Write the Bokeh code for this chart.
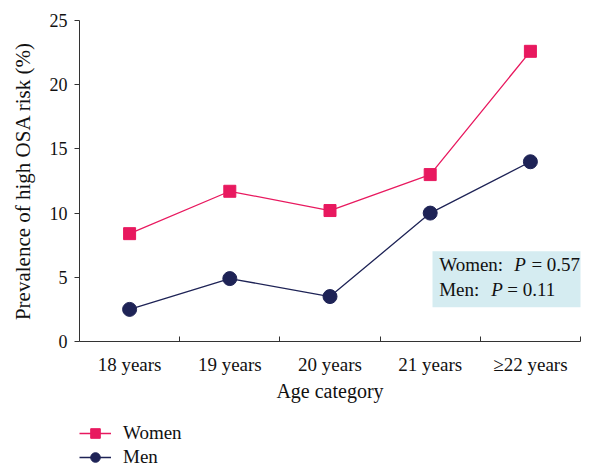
from bokeh.plotting import figure
from bokeh.layouts import column
from bokeh.models import Range1d, FixedTicker, Legend, LegendItem, BoxAnnotation, Label
from bokeh.embed import file_html
from bokeh.resources import INLINE

# ---- data ----
categories = ["18 years", "19 years", "20 years", "21 years", "\u226522 years"]
women = [8.4, 11.7, 10.2, 13.0, 22.6]
men = [2.5, 4.9, 3.5, 10.0, 14.0]
y_ticks = [0, 5, 10, 15, 20, 25]
p_women = "0.57"
p_men = "0.11"

PINK = "#E8195F"
NAVY = "#1E2356"
AXIS = "#333333"
FONT = "Liberation Serif"

positions = [i + 0.5 for i in range(len(categories))]
boundaries = [i + 1 for i in range(len(categories))]

p = figure(frame_width=501, frame_height=321, output_backend="svg", toolbar_location=None,
           x_range=Range1d(0, len(categories)), y_range=Range1d(0, 25),
           min_border_left=79, min_border_right=5, min_border_top=20,
           min_border_bottom=64)
p.outline_line_color = None
p.xgrid.visible = False
p.ygrid.visible = False

# x axis: labels at category centres, ticks at boundaries
p.xaxis.ticker = FixedTicker(ticks=positions, minor_ticks=boundaries)
p.xaxis.major_label_overrides = {pos: cat for pos, cat in zip(positions, categories)}
p.xaxis.major_tick_in = 0
p.xaxis.major_tick_out = 0
p.xaxis.minor_tick_in = 5
p.xaxis.minor_tick_out = 0
p.xaxis.minor_tick_line_color = AXIS
p.xaxis.major_label_standoff = 12
p.xaxis.axis_label = "Age category"
p.xaxis.axis_label_standoff = 2

p.yaxis.ticker = FixedTicker(ticks=y_ticks)
p.yaxis.major_tick_in = 0
p.yaxis.major_tick_out = 5
p.yaxis.minor_tick_line_color = None
p.yaxis.major_label_standoff = 7
p.yaxis.axis_label = "Prevalence of high OSA risk (%)"
p.yaxis.axis_label_standoff = 12

for ax in (p.xaxis, p.yaxis):
    ax.axis_line_color = AXIS
    ax.major_label_text_font = FONT
    ax.major_label_text_font_size = "18px"
    ax.major_label_text_color = "#111111"
    ax.axis_label_text_font = FONT
    ax.axis_label_text_font_size = "20px"
    ax.axis_label_text_font_style = "normal"
    ax.axis_label_text_color = "#111111"
p.xaxis.major_label_text_font_size = "19px"
p.yaxis.axis_label_text_font_size = "21px"
p.xaxis.major_tick_line_color = None
p.yaxis.major_tick_line_color = AXIS

# annotation box
box = BoxAnnotation(left=3.523, right=5.4, bottom=2.67, top=7.03,
                    fill_color="#D5ECF1", fill_alpha=1.0, line_color=None,
                    level="underlay")
p.add_layout(box)

# series
wl = p.line(positions, women, line_color=PINK, line_width=1.3)
ws = p.scatter(positions, women, marker="square", size=12,
               fill_color=PINK, line_color=PINK)
ml = p.line(positions, men, line_color=NAVY, line_width=1.3)
ms = p.scatter(positions, men, marker="circle", size=14,
               fill_color=NAVY, line_color=NAVY)

def lab(x, y, text, italic=False):
    p.add_layout(Label(x=x, y=y, text=text, text_font=FONT, text_font_size="19px",
                       text_color="#111111", text_baseline="alphabetic",
                       text_font_style="italic" if italic else "normal"))

lab(3.59, 6.0, "Women:")
lab(4.34, 6.0, "P", italic=True)
lab(4.51, 6.0, "= " + p_women)
lab(3.59, 4.07, "Men:")
lab(4.11, 4.07, "P", italic=True)
lab(4.27, 4.07, "= " + p_men)

# legend strip below the chart (hidden copies of the series supply the glyph samples)
q = figure(width=585, height=64, output_backend="svg", toolbar_location=None,
           x_range=Range1d(0, 1), y_range=Range1d(0, 1), min_border=0)
q.axis.visible = False
q.grid.visible = False
q.outline_line_color = None
lw = q.line(positions, women, line_color=PINK, line_width=1.3, visible=False)
lws = q.scatter(positions, women, marker="square", size=12,
                fill_color=PINK, line_color=PINK, visible=False)
lm = q.line(positions, men, line_color=NAVY, line_width=1.3, visible=False)
lms = q.scatter(positions, men, marker="circle", size=14,
                fill_color=NAVY, line_color=NAVY, visible=False)

legend = Legend(items=[LegendItem(label="Women", renderers=[lw, lws]),
                       LegendItem(label="Men", renderers=[lm, lms])],
                location=(0, 0), orientation="vertical",
                margin=0, padding=0, border_line_color=None,
                background_fill_alpha=0.0, inactive_fill_alpha=0.0,
                glyph_width=32, glyph_height=24, label_height=20,
                spacing=0, label_standoff=12,
                label_text_font=FONT, label_text_font_size="19px",
                label_text_color="#111111")
q.add_layout(legend)

open("out.html", "w").write(file_html(column(p, q, spacing=0), INLINE))
